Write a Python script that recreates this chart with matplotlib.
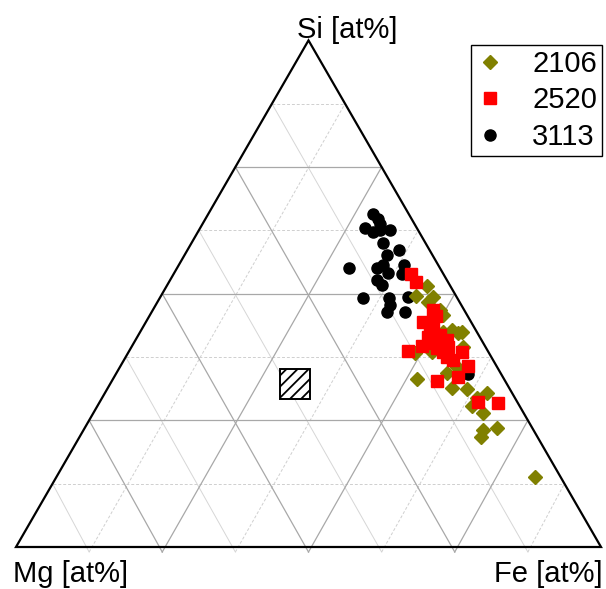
import numpy as np
import matplotlib
matplotlib.use('Agg')
import matplotlib.pyplot as plt
from matplotlib.patches import Rectangle, Polygon

plt.rcParams['font.family'] = ['Liberation Sans', 'DejaVu Sans']
plt.rcParams['hatch.linewidth'] = 1.3

# ---- data (at%): Si and Fe, Mg = 100 - Si - Fe ----
s2106_si = [51.5, 49.5, 49.3, 48.4, 45.8, 42.8, 42.2, 42.4, 38.3, 38.5, 35.5, 34.3, 33.2,
            31.4, 31.2, 30.4, 29.4, 27.8, 26.5, 23.5, 23.1, 21.7, 13.8, 42.4, 46.8, 39.5]
s2106_fe = [44.5, 43.6, 46.6, 46.2, 50.1, 53.1, 54.5, 55.0, 49.0, 51.9, 57.6, 56.6, 51.9,
            58.8, 61.5, 65.3, 64.1, 64.0, 66.5, 70.5, 68.2, 68.6, 81.8, 51.8, 49.1, 56.7]

s2520_si = [53.9, 52.3, 46.8, 45.6, 44.4, 43.2, 42.2, 40.9, 40.9, 38.7, 39.7, 39.3, 38.5,
            39.5, 37.5, 38.5, 36.9, 35.7, 33.6, 32.8, 28.6, 28.4, 40.3, 41.8, 41.5]
s2520_fe = [40.5, 42.3, 47.9, 49.0, 47.4, 49.7, 49.7, 51.6, 53.3, 47.7, 49.6, 52.4, 53.8,
            54.1, 54.9, 57.0, 56.2, 59.4, 58.8, 55.6, 64.7, 68.2, 51.2, 51.6, 49.6]

s3113_si = [65.7, 64.7, 63.8, 63.0, 62.2, 62.6, 62.6, 60.0, 58.6, 57.6, 55.1, 55.1, 55.7,
            54.1, 55.7, 53.9, 52.7, 51.7, 49.2, 49.2, 49.3, 47.8, 46.4, 46.4, 34.1]
s3113_fe = [28.1, 29.5, 30.3, 28.2, 29.9, 30.9, 32.6, 32.7, 36.2, 34.6, 29.3, 34.2, 34.9,
            36.6, 38.4, 39.1, 35.3, 36.7, 34.7, 39.2, 42.3, 40.0, 40.2, 43.3, 60.2]

ref_si, ref_fe = 32.1, 31.6   # hatched reference square

series_names = ['2106', '2520', '3113']
axis_labels = ['Si [at%]', 'Mg [at%]', 'Fe [at%]']

H = np.sqrt(3) / 2


def tern(si, fe):
    si = np.asarray(si, float) / 100.0
    fe = np.asarray(fe, float) / 100.0
    return fe + si / 2.0, si * H


fig = plt.figure(figsize=(6.06, 5.89), dpi=100)
ax = fig.add_axes([0, 0, 1, 1])
S = 585.0
x0, yb = 16.0, 547.0
ax.set_xlim(-x0 / S, (606 - x0) / S)
ax.set_ylim(-(589 - yb) / S, yb / S)
ax.axis('off')

tick = 5.0 / S
major = [0.25, 0.5, 0.75]
minor = [0.125, 0.375, 0.625, 0.875]

def grid_lines(vals, styles):
    c, ls, lw = styles
    for v in vals:
        ax.plot([v / 2, 1 - v / 2], [H * v, H * v], color=c['si'], ls=ls['si'], lw=lw, zorder=1)
        # constant Mg
        ax.plot([(1 - v) / 2, 1 - v], [H * (1 - v), -tick], color=c['mg'], ls=ls['mg'], lw=lw, zorder=1)
        # constant Fe
        ax.plot([v, v + (1 - v) / 2], [-tick, H * (1 - v)], color=c['fe'], ls=ls['fe'], lw=lw, zorder=1)

grid_lines(minor, ({'si': '#cfcfcf', 'mg': '#d6d6d6', 'fe': '#cfcfcf'},
                   {'si': (0, (3, 2)), 'mg': '-', 'fe': (0, (3, 2))}, 0.7))
grid_lines(major, ({'si': '#a8a8a8', 'mg': '#a8a8a8', 'fe': '#a8a8a8'},
                   {'si': '-', 'mg': '-', 'fe': '-'}, 0.9))

tri = Polygon([[0, 0], [1, 0], [0.5, H]], closed=True, fill=False,
              edgecolor='black', lw=1.6, zorder=3, joinstyle='miter')
ax.add_patch(tri)

cx, cy = tern(ref_si, ref_fe)
a = 30.0 / S
ax.add_patch(Rectangle((cx - a / 2, cy - a / 2), a, a, facecolor='white',
                       edgecolor='black', hatch='///', lw=1.4, zorder=4))

x, y = tern(s3113_si, s3113_fe)
h3, = ax.plot(x, y, 'o', color='black', ms=8, ls='none', zorder=5, label=series_names[2])
x, y = tern(s2106_si, s2106_fe)
h1, = ax.plot(x, y, 'D', color='#808000', ms=7, ls='none', zorder=6, label=series_names[0])
x, y = tern(s2520_si, s2520_fe)
h2, = ax.plot(x, y, 's', color='#ff0000', ms=8, ls='none', zorder=7, label=series_names[1])

leg = ax.legend([h1, h2, h3], series_names, loc='upper right',
                bbox_to_anchor=(602 / 606, 1 - 45 / 589), bbox_transform=fig.transFigure,
                fontsize=21, frameon=True, fancybox=False, framealpha=1, edgecolor='black',
                borderpad=0.17, handlelength=1.0, handletextpad=0.94, labelspacing=0.29,
                borderaxespad=0, numpoints=1)
leg.get_frame().set_linewidth(1.0)

fig.text(297 / 606, 1 - 38 / 589, axis_labels[0], ha='left', va='baseline', fontsize=21)
fig.text(13 / 606, 1 - 582 / 589, axis_labels[1], ha='left', va='baseline', fontsize=21)
fig.text(603 / 606, 1 - 582 / 589, axis_labels[2], ha='right', va='baseline', fontsize=21)

fig.savefig('out.png', dpi=100)
